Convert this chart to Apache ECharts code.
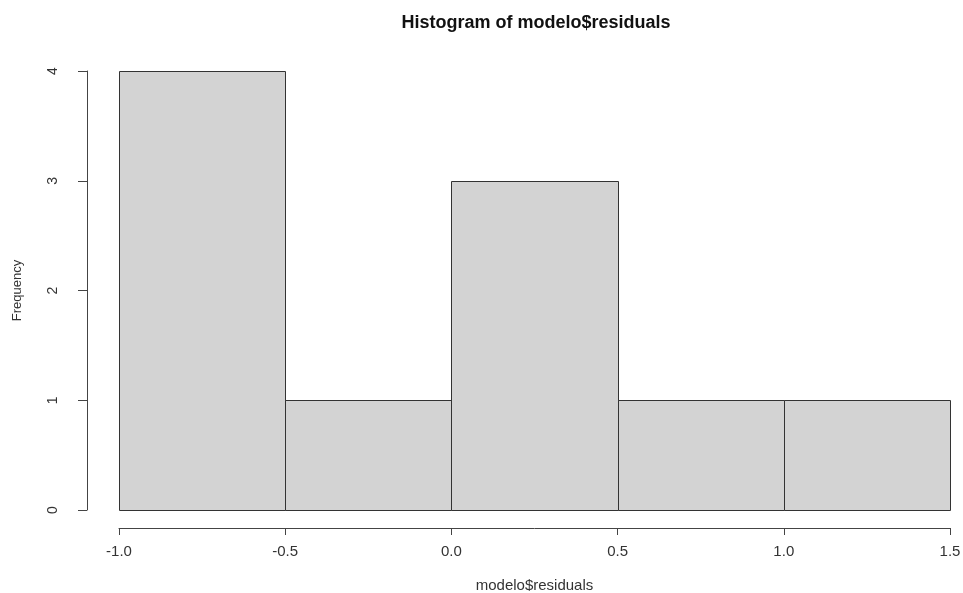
<!DOCTYPE html>
<html>
<head>
<meta charset="utf-8">
<script src="https://cdn.jsdelivr.net/npm/echarts@6/dist/echarts.min.js"></script>
<style>html,body{margin:0;padding:0;background:#fff}#c{width:963px;height:593px}</style>
</head>
<body>
<div id="c"></div>
<script>
var binStarts = [-1.0, -0.5, 0.0, 0.5, 1.0];
var binEnds = [-0.5, 0.0, 0.5, 1.0, 1.5];
var counts = [4, 1, 3, 1, 1];
var xTicks = [-1.0, -0.5, 0.0, 0.5, 1.0, 1.5];
var yTicks = [0, 1, 2, 3, 4];

var data = binStarts.map(function (s, i) { return [s, binEnds[i], counts[i]]; });
var chart = echarts.init(document.getElementById('c'));
var font = 'Liberation Sans, Arial, sans-serif';
chart.setOption({
  animation: false,
  backgroundColor: '#fff',
  title: {
    text: 'Histogram of modelo$residuals',
    left: 531, top: 9, textAlign: 'center',
    textStyle: { fontFamily: font, fontSize: 18, fontWeight: 'bold', color: '#111' }
  },
  grid: { left: 119, right: 13, top: 71, bottom: 83, containLabel: false, outerBoundsMode: 'none' },
  xAxis: {
    type: 'value', min: -1.0, max: 1.5, interval: 0.5, offset: 18,
    name: 'modelo$residuals', nameLocation: 'middle', nameGap: 50,
    nameTextStyle: { fontFamily: font, fontSize: 15, color: '#333' },
    axisLine: { show: true, onZero: false, lineStyle: { color: '#444', width: 1 } },
    axisTick: { show: true, length: 7, lineStyle: { color: '#444' } },
    splitLine: { show: false },
    axisLabel: { margin: 16, fontFamily: font, fontSize: 15, color: '#333',
      formatter: function (v) { return v.toFixed(1); } }
  },
  yAxis: {
    type: 'value', min: 0, max: 4, interval: 1, offset: 32,
    name: 'Frequency', nameLocation: 'middle', nameGap: 63, nameRotate: 90,
    nameTextStyle: { fontFamily: font, fontSize: 13, color: '#333' },
    axisLine: { show: true, onZero: false, lineStyle: { color: '#444', width: 1 } },
    axisTick: { show: true, length: 9, lineStyle: { color: '#444' } },
    splitLine: { show: false },
    axisLabel: { margin: 27, rotate: 90, fontFamily: font, fontSize: 14, color: '#333' }
  },
  series: [{
    type: 'custom',
    data: data,
    encode: { x: [0, 1], y: 2 },
    renderItem: function (params, api) {
      var p0 = api.coord([api.value(0), api.value(2)]);
      var p1 = api.coord([api.value(1), 0]);
      var x0 = Math.round(p0[0]), x1 = Math.round(p1[0]);
      var y0 = Math.round(p0[1]), y1 = Math.round(p1[1]);
      return {
        type: 'rect',
        shape: { x: x0 + 0.5, y: y0 + 0.5, width: x1 - x0, height: y1 - y0 },
        style: { fill: '#D3D3D3', stroke: '#333', lineWidth: 1 }
      };
    }
  }]
});
</script>
</body>
</html>
